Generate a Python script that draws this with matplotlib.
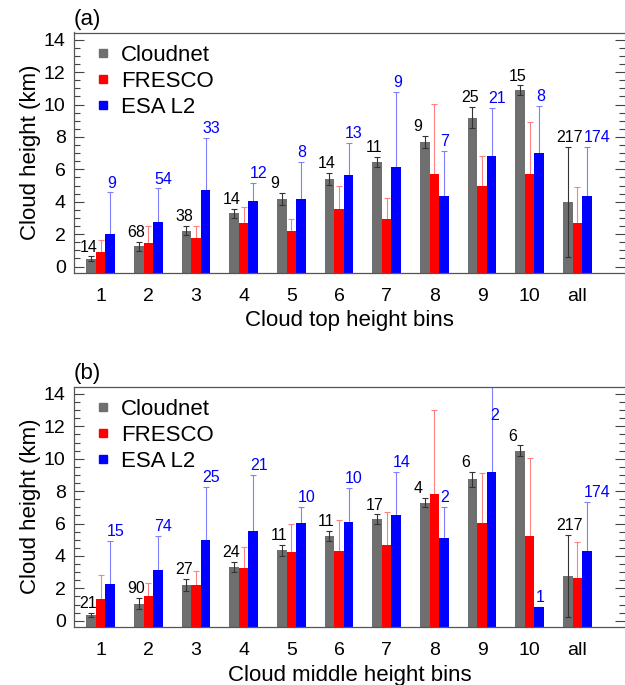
import matplotlib
matplotlib.use('Agg')
import matplotlib.pyplot as plt
from matplotlib.lines import Line2D
from matplotlib.ticker import MultipleLocator
import numpy as np

plt.rcParams['font.family'] = ['Liberation Sans', 'DejaVu Sans']

# x tick labels (bins)
bins = ['1', '2', '3', '4', '5', '6', '7', '8', '9', '10', 'all']

# (a) cloud top height bins
cn_a = [0.47, 1.24, 2.22, 3.29, 4.18, 5.39, 6.46, 7.70, 9.20, 10.87, 4.01]
cn_err_a = [0.15, 0.26, 0.30, 0.27, 0.37, 0.37, 0.30, 0.38, 0.64, 0.31, 3.40]
fr_a = [0.88, 1.46, 1.79, 2.70, 2.20, 3.58, 2.92, 5.72, 4.96, 5.72, 2.68]
fr_err_a = [0.77, 1.05, 0.70, 0.96, 0.74, 1.38, 1.34, 4.31, 1.85, 3.19, 2.20]
esa_a = [2.00, 2.74, 4.74, 4.04, 4.14, 5.62, 6.14, 4.36, 6.81, 6.98, 4.36]
esa_err_a = [2.57, 2.08, 3.19, 1.09, 2.30, 2.00, 4.61, 2.76, 2.99, 2.92, 3.05]
n_cn_a = [14, 68, 38, 14, 9, 14, 11, 9, 25, 15, 217]
n_esa_a = [9, 54, 33, 12, 8, 13, 9, 7, 21, 8, 174]

# (b) cloud middle height bins
cn_b = [0.35, 1.06, 2.21, 3.30, 4.34, 5.26, 6.26, 7.29, 8.72, 10.48, 2.76]
cn_err_b = [0.15, 0.33, 0.36, 0.31, 0.33, 0.31, 0.30, 0.29, 0.45, 0.34, 2.54]
fr_b = [1.33, 1.51, 2.23, 3.23, 4.24, 4.28, 4.65, 7.84, 6.02, 5.20, 2.64]
fr_err_b = [1.51, 0.84, 0.86, 1.31, 1.72, 1.96, 2.08, 5.20, 3.11, 4.83, 2.21]
esa_b = [2.25, 3.15, 4.99, 5.51, 6.02, 6.08, 6.55, 5.12, 9.17, 0.82, 4.32]
esa_err_b = [2.68, 2.07, 3.28, 3.48, 0.98, 2.11, 2.62, 1.92, 7.00, 0.00, 3.01]
n_cn_b = [21, 90, 27, 24, 11, 11, 17, 4, 6, 6, 217]
n_esa_b = [15, 74, 25, 21, 10, 10, 14, 2, 2, 1, 174]

c_cn = '#6f6f6f'
c_fr = '#ff0000'
c_esa = '#0000ff'
ybot, ytop = -0.37, 14.45
w = 0.2

W, H = 625, 685
fig = plt.figure(figsize=(W / 100, H / 100), dpi=100)


def panel(rect, cn, cn_err, fr, fr_err, esa, esa_err, n_cn, n_esa, tag, xlab):
    ax = fig.add_axes(rect)
    x = np.arange(1, len(bins) + 1)
    cn, cn_err = np.array(cn), np.array(cn_err)
    fr, fr_err = np.array(fr), np.array(fr_err)
    esa, esa_err = np.array(esa), np.array(esa_err)

    # light error bars behind FRESCO / ESA bars
    ax.errorbar(x, fr, yerr=fr_err, fmt='none', ecolor='#ff8080', elinewidth=0.8,
                capsize=2.2, capthick=0.8, zorder=1)
    ax.errorbar(x + w, esa, yerr=esa_err, fmt='none', ecolor='#8080ff', elinewidth=0.8,
                capsize=2.2, capthick=0.8, zorder=1)
    ax.bar(x - w, cn - ybot, w, bottom=ybot, color=c_cn, zorder=2)
    ax.bar(x, fr - ybot, w, bottom=ybot, color=c_fr, zorder=2)
    ax.bar(x + w, esa - ybot, w, bottom=ybot, color=c_esa, zorder=2)
    ax.errorbar(x - w, cn, yerr=cn_err, fmt='none', ecolor='#333333', elinewidth=0.8,
                capsize=2.2, capthick=0.8, zorder=3)

    for i in range(len(x)):
        ax.text(x[i] - 0.44, cn[i] + cn_err[i] + 0.12, str(n_cn[i]), fontsize=11.5,
                ha='left', va='bottom', color='black', zorder=4)
        top = esa[i] + esa_err[i]
        if top > 12.3:
            ax.text(x[i] + w - 0.02, 12.2, str(n_esa[i]), fontsize=11.5,
                    ha='left', va='bottom', color=c_esa, zorder=4)
        else:
            ax.text(x[i] + 0.13, top + 0.12, str(n_esa[i]), fontsize=11.5,
                    ha='left', va='bottom', color=c_esa, zorder=4)

    ax.set_xlim(0.44, 12.0)
    ax.set_ylim(ybot, ytop)
    ax.set_xticks(x)
    ax.set_xticklabels(bins, fontsize=14)
    ax.set_xticks(np.concatenate([x - w, x, x + w]), minor=True)
    ax.yaxis.set_major_locator(MultipleLocator(2))
    ax.yaxis.set_minor_locator(MultipleLocator(0.5))
    ax.tick_params(axis='y', which='both', direction='in', left=True, right=True,
                   labelsize=14, color='#444444', pad=6)
    ax.tick_params(axis='y', which='major', length=7, width=0.8)
    ax.tick_params(axis='y', which='minor', length=4.5, width=0.8)
    ax.tick_params(axis='x', which='major', length=0, pad=11)
    ax.tick_params(axis='x', which='minor', direction='in', length=2.5, width=0.7,
                   color='#444444')
    for s in ['left', 'bottom', 'top']:
        ax.spines[s].set_color('#555555')
        ax.spines[s].set_linewidth(0.9)
    ax.spines['right'].set_visible(False)

    ax.set_ylabel('Cloud height (km)', fontsize=16, labelpad=2)
    ax.set_xlabel(xlab, fontsize=16, labelpad=4)
    ax.text(0.0, 1.01, tag, transform=ax.transAxes, fontsize=16, ha='left', va='bottom')

    handles = [Line2D([], [], ls='none', marker='s', markersize=6, color=c)
               for c in [c_cn, c_fr, c_esa]]
    ax.legend(handles, ['Cloudnet', 'FRESCO', 'ESA L2'], loc='upper left',
              bbox_to_anchor=(0.025, 0.985), frameon=False, fontsize=16,
              handlelength=0.6, handletextpad=0.5, labelspacing=0.22, borderaxespad=0)
    return ax


left = 74 / W
width = (W - 74) / W
height = 240 / H
panel([left, 1 - 272.5 / H, width, height], cn_a, cn_err_a, fr_a, fr_err_a, esa_a,
      esa_err_a, n_cn_a, n_esa_a, '(a)', 'Cloud top height bins')
panel([left, 1 - 626.7 / H, width, height], cn_b, cn_err_b, fr_b, fr_err_b, esa_b,
      esa_err_b, n_cn_b, n_esa_b, '(b)', 'Cloud middle height bins')

fig.savefig('out.png', dpi=100)
